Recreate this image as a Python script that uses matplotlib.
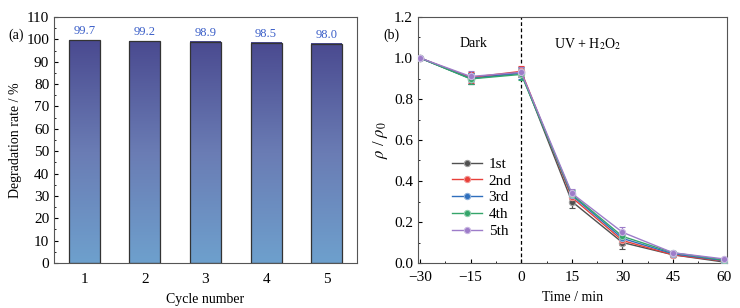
import numpy as np
import matplotlib
matplotlib.use("Agg")
import matplotlib.pyplot as plt
from matplotlib.colors import LinearSegmentedColormap, to_rgb
from matplotlib.lines import Line2D
from matplotlib.ticker import MultipleLocator

plt.rcParams['font.family'] = ['Liberation Serif', 'DejaVu Serif']
plt.rcParams['mathtext.fontset'] = 'stix'

# panel (a) data
cycles = [1, 2, 3, 4, 5]
rates = [99.7, 99.2, 98.9, 98.5, 98.0]

# panel (b) data
times = [-30, -15, 0, 15, 30, 45, 60]
run_labels = ['1st', '2nd', '3rd', '4th', '5th']
run_1 = [1.0, 0.900, 0.930, 0.300, 0.100, 0.040, 0.005]
run_2 = [1.0, 0.905, 0.935, 0.320, 0.110, 0.040, 0.010]
run_3 = [1.0, 0.900, 0.925, 0.330, 0.120, 0.045, 0.012]
run_4 = [1.0, 0.898, 0.920, 0.335, 0.130, 0.050, 0.015]
run_5 = [1.0, 0.910, 0.930, 0.340, 0.150, 0.050, 0.020]
err_1 = [0.0, 0.025, 0.025, 0.030, 0.030, 0.010, 0.005]
err_2 = [0.0, 0.025, 0.025, 0.020, 0.020, 0.010, 0.005]
err_3 = [0.0, 0.025, 0.025, 0.020, 0.020, 0.010, 0.005]
err_4 = [0.0, 0.025, 0.025, 0.020, 0.020, 0.010, 0.005]
err_5 = [0.0, 0.025, 0.025, 0.020, 0.025, 0.010, 0.005]
runs = [run_1, run_2, run_3, run_4, run_5]
errs = [err_1, err_2, err_3, err_4, err_5]
run_colors = ['#505050', '#e8403a', '#2f6fbd', '#35a56a', '#9d7cc9']


def lighter(c, f=0.45):
    r, g, b = to_rgb(c)
    return (r + (1 - r) * f, g + (1 - g) * f, b + (1 - b) * f)


fig = plt.figure(figsize=(7.4, 3.08), dpi=100)
ax1 = fig.add_axes([54 / 740, 45 / 308, 303 / 740, 246 / 308])
ax2 = fig.add_axes([418 / 740, 45 / 308, 309 / 740, 246 / 308])

# --- (a) gradient bars
cmap = LinearSegmentedColormap.from_list('barg', ['#6ea0cd', '#6a7cb4', '#4a4a90'])
grad = np.linspace(0, 1, 256).reshape(-1, 1)
bars = ax1.bar(cycles, rates, width=0.51, color='none', edgecolor='#333333', lw=0.9, zorder=3)
for b, r in zip(bars, rates):
    x0 = b.get_x()
    ax1.imshow(grad, cmap=cmap, origin='lower', aspect='auto',
               extent=[x0, x0 + b.get_width(), 0, r], zorder=2)
    ax1.text(b.get_x() + b.get_width() / 2, r + 1.2, f'{r:.1f}', ha='center', va='bottom',
             color='#3a5ec8', fontsize=9)
ax1.set_xlim(0.5, 5.5)
ax1.set_ylim(0, 110)
ax1.set_xticks(cycles)
ax1.yaxis.set_major_locator(MultipleLocator(10))
ax1.yaxis.set_minor_locator(MultipleLocator(5))
ax1.tick_params(axis='x', length=0, labelsize=11, pad=7)
ax1.tick_params(axis='y', labelsize=11, direction='in', length=3)
ax1.tick_params(axis='y', which='minor', direction='in', length=1.5)
ax1.set_xlabel('Cycle number', fontsize=10, labelpad=5)
ax1.set_ylabel('Degradation rate / %', fontsize=10, labelpad=3)
for s in ax1.spines.values():
    s.set_color('#555555')
fig.text(8 / 740, 1 - 35 / 308, '(a)', fontsize=10, va='center')

# --- (b) cycle runs
for y, e, c, lab in zip(runs, errs, run_colors, run_labels):
    ax2.errorbar(times, y, yerr=e, color=c, lw=1.0, marker='o', ms=4.5,
                 mfc=c, mec=lighter(c), mew=0.8, capsize=2, elinewidth=0.9, zorder=3)
ax2.axvline(0, color='black', ls=(0, (3, 2)), lw=0.9, zorder=2)
ax2.set_xlim(-30.6, 61)
ax2.set_ylim(0, 1.2)
ax2.set_xticks(times)
ax2.set_xticklabels(['\u221230', '\u221215', '0', '15', '30', '45', '60'])
ax2.xaxis.set_minor_locator(MultipleLocator(7.5))
ax2.yaxis.set_major_locator(MultipleLocator(0.2))
ax2.yaxis.set_minor_locator(MultipleLocator(0.1))
ax2.tick_params(labelsize=11, direction='in', length=3)
ax2.tick_params(which='minor', direction='in', length=1.5)
ax2.tick_params(axis='x', pad=6)
ax2.set_xlabel('Time / min', fontsize=10, labelpad=5)
ax2.set_ylabel(r'$\rho$ / $\rho_0$', fontsize=12, labelpad=3)
for s in ax2.spines.values():
    s.set_color('#555555')
ax2.text(-14.2, 1.07, 'Dark', ha='center', va='center', fontsize=10)
ax2.text(19.8, 1.07, r'UV + H$_2$O$_2$', ha='center', va='center', fontsize=10)
handles = [Line2D([], [], color=c, lw=1.0, marker='o', ms=4.5, mfc=c, mec=lighter(c), mew=0.8)
           for c in run_colors]
ax2.legend(handles, run_labels, loc='upper left', bbox_to_anchor=(0.09, 0.455), frameon=False,
           fontsize=11, handlelength=2.0, handletextpad=0.4, labelspacing=0.2, borderaxespad=0)
fig.text(383 / 740, 1 - 35 / 308, '(b)', fontsize=10, va='center')

fig.savefig('out.png', dpi=100)
